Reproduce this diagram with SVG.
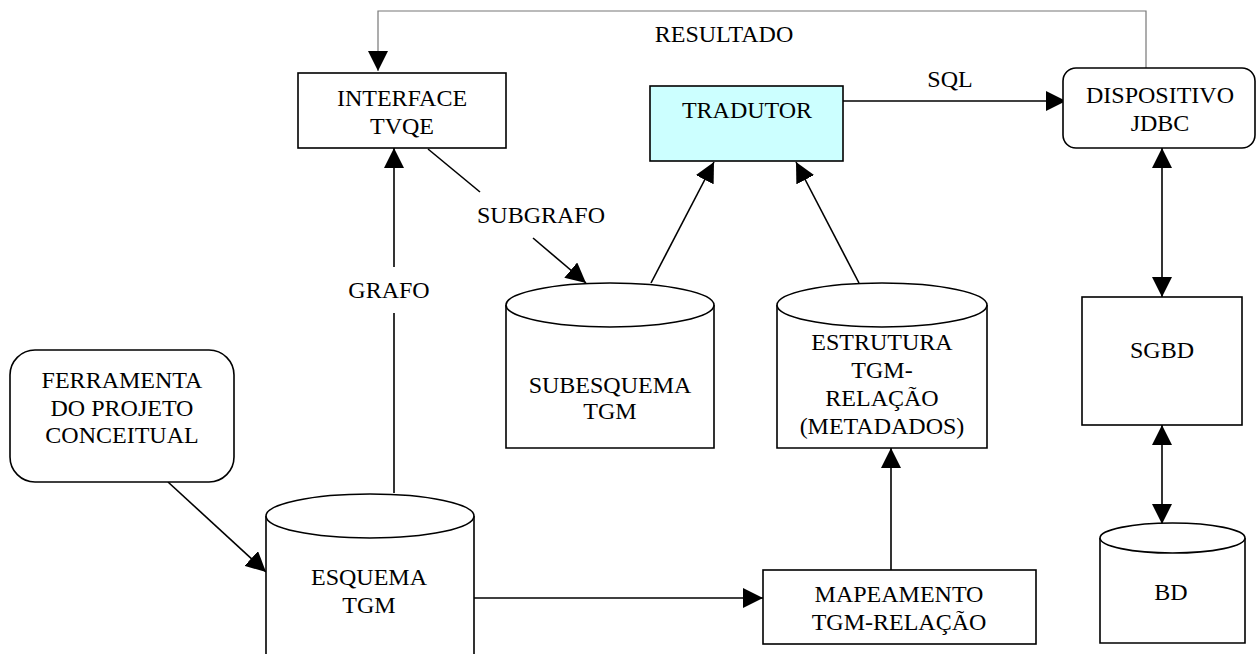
<svg xmlns="http://www.w3.org/2000/svg" width="1257" height="654" viewBox="0 0 1257 654">
<style>
.n{fill:#fff;stroke:#000;stroke-width:1.6}
.t{font-family:"Liberation Serif","Times New Roman",serif;font-size:24px;fill:#000;text-anchor:middle}
.c{fill:none;stroke:#000;stroke-width:1.6}
</style>
<defs>
<marker id="ah" markerUnits="userSpaceOnUse" markerWidth="20" markerHeight="20" refX="20" refY="10" orient="auto-start-reverse" viewBox="0 0 20 20">
<path d="M0,0 L20,10 L0,20 z" fill="#000"/>
</marker>
</defs>
<rect width="1257" height="654" fill="#fff"/>
<g id="connectors">
<polyline class="c" points="1146,68 1146,11 378,11 378,71" style="stroke:#777;stroke-width:1.2" marker-end="url(#ah)"/>
<line class="c" x1="394" y1="493" x2="394" y2="313"/>
<line class="c" x1="394" y1="267" x2="394" y2="148" marker-end="url(#ah)"/>
<line class="c" x1="428" y1="149" x2="480" y2="192"/>
<line class="c" x1="533" y1="238" x2="586" y2="283" marker-end="url(#ah)"/>
<line class="c" x1="651" y1="283" x2="714" y2="162" marker-end="url(#ah)"/>
<line class="c" x1="859" y1="283" x2="796" y2="162" marker-end="url(#ah)"/>
<line class="c" x1="843" y1="101" x2="1066" y2="101" marker-end="url(#ah)"/>
<line class="c" x1="1162" y1="148" x2="1162" y2="297" marker-start="url(#ah)" marker-end="url(#ah)"/>
<line class="c" x1="1162" y1="425" x2="1162" y2="524" marker-start="url(#ah)" marker-end="url(#ah)"/>
<line class="c" x1="891" y1="570" x2="891" y2="448" marker-end="url(#ah)"/>
<line class="c" x1="474" y1="598" x2="763" y2="598" marker-end="url(#ah)"/>
<line class="c" x1="168" y1="482" x2="266" y2="572" marker-end="url(#ah)"/>
<text class="t" x="724" y="42">RESULTADO</text>
<text class="t" x="950" y="87">SQL</text>
<text class="t" x="541" y="223">SUBGRAFO</text>
<text class="t" x="389" y="298">GRAFO</text>
</g>
<g id="interface">
<rect class="n" x="298" y="73" width="208" height="75"/>
<text class="t" x="402" y="106">INTERFACE</text>
<text class="t" x="402" y="134">TVQE</text>
</g>
<g id="tradutor">
<rect class="n" x="650" y="86" width="193" height="75" style="fill:#ccffff"/>
<text class="t" x="747" y="118">TRADUTOR</text>
</g>
<g id="dispositivo">
<rect class="n" x="1063" y="68" width="192" height="80" rx="13"/>
<text class="t" x="1160" y="103">DISPOSITIVO</text>
<text class="t" x="1160" y="131">JDBC</text>
</g>
<g id="sgbd">
<rect class="n" x="1082" y="297" width="160" height="128"/>
<text class="t" x="1162" y="358">SGBD</text>
</g>
<g id="ferramenta">
<rect class="n" x="10" y="350" width="224" height="132" rx="25"/>
<text class="t" x="122" y="388">FERRAMENTA</text>
<text class="t" x="122" y="416">DO PROJETO</text>
<text class="t" x="122" y="443">CONCEITUAL</text>
</g>
<g id="esquema">
<path class="n" d="M266,516 L266,660 L474,660 L474,516"/>
<ellipse class="n" cx="370" cy="516" rx="104" ry="22"/>
<text class="t" x="369" y="585">ESQUEMA</text>
<text class="t" x="369" y="613">TGM</text>
</g>
<g id="subesquema">
<path class="n" d="M506,305 L506,448 L714,448 L714,305"/>
<ellipse class="n" cx="610" cy="305" rx="104" ry="22"/>
<text class="t" x="610" y="393">SUBESQUEMA</text>
<text class="t" x="610" y="419">TGM</text>
</g>
<g id="estrutura">
<path class="n" d="M777,305 L777,448 L987,448 L987,305"/>
<ellipse class="n" cx="882" cy="305" rx="105" ry="22"/>
<text class="t" x="882" y="350">ESTRUTURA</text>
<text class="t" x="882" y="378">TGM-</text>
<text class="t" x="882" y="406">RELAÇÃO</text>
<text class="t" x="882" y="434">(METADADOS)</text>
</g>
<g id="mapeamento">
<rect class="n" x="763" y="570" width="273" height="74"/>
<text class="t" x="899" y="602">MAPEAMENTO</text>
<text class="t" x="899" y="630">TGM-RELAÇÃO</text>
</g>
<g id="bd">
<path class="n" d="M1100,538 L1100,643 L1245,643 L1245,538"/>
<ellipse class="n" cx="1172.5" cy="538" rx="72.5" ry="15"/>
<text class="t" x="1171" y="600">BD</text>
</g>
</svg>
